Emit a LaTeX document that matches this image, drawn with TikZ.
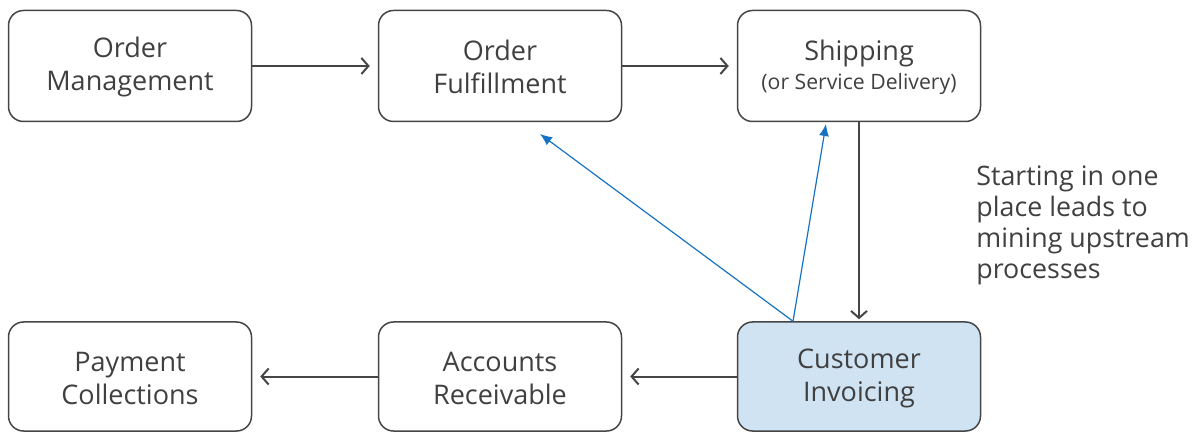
\documentclass[tikz,border=0pt]{standalone}
\usepackage{fontspec}
\setmainfont{Open Sans}
\usepackage{tikz}
\usetikzlibrary{arrows.meta,positioning}
\usepackage{xcolor}

\definecolor{textgray}{HTML}{404040}
\definecolor{linegray}{HTML}{454545}
\definecolor{invoiceblue}{HTML}{CFE3F3}
\definecolor{linkblue}{HTML}{1673C4}

\tikzset{
  stage/.style={draw=linegray, line width=0.75pt, rounded corners=7.5pt,
    minimum width=121.5pt, minimum height=55.5pt, align=center,
    text=textgray, font=\fontsize{13.5}{16.5}\selectfont, inner sep=2pt},
  flow/.style={draw=linegray, line width=1pt,
    -{Straight Barb[length=3.5pt,width=8pt,line width=1pt]}},
  backlink/.style={draw=linkblue, line width=0.6pt,
    -{Latex[length=6pt,width=5pt]}}
}

\begin{document}
\begin{tikzpicture}[x=0.5pt, y=-0.5pt]
  \useasboundingbox (0,0) rectangle (1192,432);

  % top row
  \node [stage] (orders) at (130,66) {\strut Order\\Management};
  \node [stage] (fulfil) at (500,66) {\strut Order\\Fulfillment};
  \node [stage] (ship) at (859,66) {\strut Shipping\\[-2pt]{\fontsize{10.6}{12}\selectfont (or Service Delivery)}};

  % bottom row
  \node [stage, minimum height=54.5pt] (payment) at (130,376.5) {\strut Payment\\Collections};
  \node [stage, minimum height=54.5pt] (receivable) at (500,376.5) {\strut Accounts\\Receivable};
  \node [stage, minimum height=54.5pt, fill=invoiceblue] (invoice) at (859,376.5) {\strut Customer\\Invoicing};

  \node [anchor=north west, align=left, text=textgray, inner sep=0pt,
    font=\fontsize{13.4}{15.5}\selectfont] (note) at (976,165)
    {Starting in one\\place leads to\\mining upstream\\processes};

  \draw [flow, shorten >=4pt] (orders) -- (fulfil);
  \draw [flow, shorten >=4pt] (fulfil) -- (ship);
  \draw [flow, shorten >=1pt] (ship) -- (invoice);
  \draw [flow, shorten >=4pt] (invoice) -- (receivable);
  \draw [flow, shorten >=4pt] (receivable) -- (payment);

  % links back upstream
  \coordinate (fulfilTip) at (540,134);
  \coordinate (shipTip) at (826,124);
  \draw [backlink] ([xshift=-33pt]invoice.north) -- (fulfilTip);
  \draw [backlink] ([xshift=-33pt]invoice.north) -- (shipTip);
\end{tikzpicture}
\end{document}
